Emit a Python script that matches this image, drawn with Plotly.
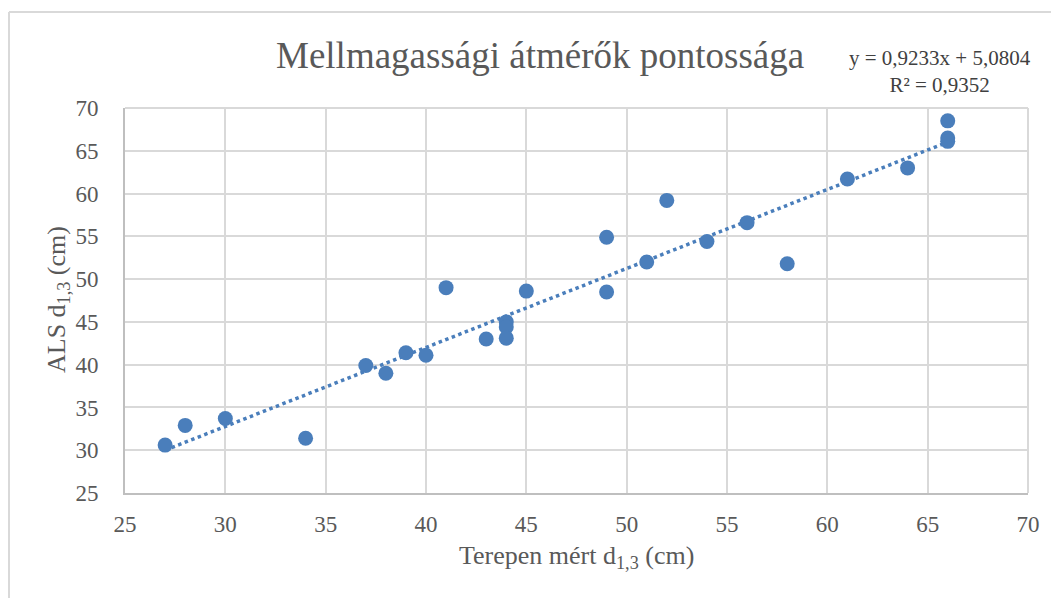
import plotly.graph_objects as go

# Data
terepen = [27, 28, 30, 34, 37, 38, 39, 40, 41, 43, 44, 44, 44, 45, 49, 49, 51, 52, 54, 56, 58, 61, 64, 66, 66, 66]
als = [30.6, 32.9, 33.7, 31.4, 39.9, 39.0, 41.4, 41.1, 49.0, 43.0, 45.0, 44.4, 43.1, 48.6,
       54.9, 48.5, 52.0, 59.2, 54.4, 56.6, 51.8, 61.7, 63.0, 68.5, 66.5, 66.1]

slope = 0.9233
intercept = 5.0804
r2 = 0.9352

x_ticks = [25, 30, 35, 40, 45, 50, 55, 60, 65, 70]
y_ticks = [25, 30, 35, 40, 45, 50, 55, 60, 65, 70]

title_text = "Mellmagassági átmérők pontossága"
x_title = "Terepen mért d<sub>1,3</sub> (cm)"
y_title = "ALS d<sub>1,3</sub> (cm)"

blue = "#4a7ebb"
font_family = "Liberation Serif"

xmin, xmax = min(terepen), max(terepen)
trend_x = [xmin, xmax]
trend_y = [slope * v + intercept for v in trend_x]

fig = go.Figure()
fig.add_trace(go.Scatter(
    x=trend_x, y=trend_y, mode="lines",
    line=dict(color=blue, width=3.5, dash="dot"),
    hoverinfo="skip", showlegend=False,
))
fig.add_trace(go.Scatter(
    x=terepen, y=als, mode="markers",
    marker=dict(color=blue, size=15, line=dict(width=0)),
    showlegend=False,
))

# page renders with an 8px offset; compensate
OFF = 8
W, H = 1059, 598
L, T = 125 - OFF, 108 - OFF
pw, ph = 903, 385
R = W - L - pw
B = H - T - ph

def px_x(px):
    return (px - OFF - L) / pw

def px_y(py):
    return (T + ph - (py - OFF)) / ph

fig.update_layout(
    width=W, height=H,
    margin=dict(l=L, r=R, t=T, b=B, autoexpand=False),
    paper_bgcolor="white", plot_bgcolor="white",
    font=dict(family=font_family, color="#595959", size=20),
    xaxis=dict(range=[25, 70], tickvals=x_ticks, showgrid=True, gridcolor="#d9d9d9", gridwidth=2,
               showline=True, linecolor="#bfbfbf", linewidth=2, mirror=False, zeroline=False,
               ticks="", ticklabelstandoff=9,
               tickfont=dict(size=23, color="#595959", family=font_family)),
    yaxis=dict(range=[25, 70], tickvals=y_ticks, showgrid=True, gridcolor="#d9d9d9", gridwidth=2,
               showline=True, linecolor="#bfbfbf", linewidth=2, mirror=False, zeroline=False,
               ticks="", ticklabelstandoff=20,
               tickfont=dict(size=23, color="#595959", family=font_family)),
    shapes=[
        dict(type="line", xref="paper", yref="paper",
             x0=1, x1=1, y0=0, y1=1,
             line=dict(color="#d9d9d9", width=2)),
        dict(type="line", xref="paper", yref="paper",
             x0=0, x1=1, y0=1, y1=1,
             line=dict(color="#d9d9d9", width=2)),
        dict(type="line", xref="paper", yref="paper",
             x0=px_x(9), x1=px_x(9), y0=px_y(12), y1=px_y(640),
             line=dict(color="#d9d9d9", width=2)),
        dict(type="line", xref="paper", yref="paper",
             x0=px_x(9), x1=px_x(1100), y0=px_y(12), y1=px_y(12),
             line=dict(color="#d9d9d9", width=2)),
    ],
    annotations=[
        dict(text=title_text, xref="paper", yref="paper", x=px_x(540), y=px_y(56),
             xanchor="center", yanchor="middle", showarrow=False,
             font=dict(size=37, color="#595959", family=font_family)),
        dict(text="y = 0,9233x + 5,0804<br>R² = 0,9352", xref="paper", yref="paper",
             x=px_x(940), y=px_y(72), xanchor="center", yanchor="middle", align="center",
             showarrow=False, font=dict(size=21, color="#404040", family=font_family)),
        dict(text=x_title, xref="paper", yref="paper", x=px_x(576), y=px_y(557),
             xanchor="center", yanchor="middle", showarrow=False,
             font=dict(size=26, color="#595959", family=font_family)),
        dict(text=y_title, xref="paper", yref="paper", x=px_x(58), y=px_y(300),
             xanchor="center", yanchor="middle", showarrow=False, textangle=-90,
             font=dict(size=26, color="#595959", family=font_family)),
    ],
)

fig.write_html("out.html")
